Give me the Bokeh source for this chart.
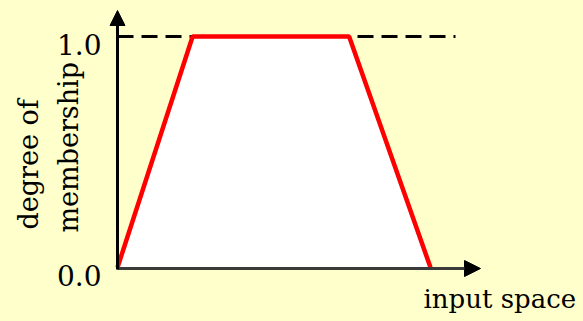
import math
from bokeh.plotting import figure
from bokeh.models import Range1d, Arrow, NormalHead
from bokeh.core.properties import value
from bokeh.embed import file_html
from bokeh.resources import INLINE

# ---- data ----
membership_x = [0.0, 2.4, 7.4, 10.0]
membership_y = [0.0, 1.0, 1.0, 0.0]
y_ticks = [0.0, 1.0]
y_tick_labels = ["0.0", "1.0"]
y_label_lines = ["degree of", "membership"]
x_label = "input space"

BG = "#FFFFCC"
FONT = "DejaVu Serif"
SHIFT = 9  # baseline correction in pixels

# ---- layout (reference pixel <-> data mapping) ----
W, H = 583, 321
OX, OY = 0, 0
X0, XS = 117.0, 31.3     # pixel of x=0, pixels per unit
Y0, YS = 267.0, 231.0    # pixel of y=0, pixels per unit


def dx(px):
    return (px - X0) / XS


def dy(py):
    return (Y0 - py) / YS


p = figure(width=W, height=H, output_backend="svg", toolbar_location=None,
           x_range=Range1d(dx(OX), dx(OX + W)), y_range=Range1d(dy(OY + H), dy(OY)),
           x_axis_location=None, y_axis_location=None, min_border=0,
           background_fill_color=BG, border_fill_color=BG, outline_line_color=None)
p.grid.visible = False

# dashed level line at membership 1.0
p.line([0.0, dx(455)], [1.0, 1.0], line_color="black", line_width=3, line_dash="16 8")

# trapezoid fill
p.patch(membership_x, membership_y, fill_color="white", line_color=None)

# axes as arrows
p.add_layout(Arrow(x_start=0.0, y_start=dy(268), x_end=dx(480), y_end=dy(268),
                   line_color="#3a3a3a", line_width=3,
                   end=NormalHead(size=16, fill_color="black", line_color="black", line_width=1)))
p.add_layout(Arrow(x_start=0.0, y_start=dy(269), x_end=0.0, y_end=dy(10),
                   line_color="black", line_width=3,
                   end=NormalHead(size=15, fill_color="black", line_color="black", line_width=1)))

# membership function
p.line(membership_x, membership_y, line_color="#FF0000", line_width=4.5)

# tick labels
p.text(x=[dx(101)] * len(y_ticks), y=[t - (17.0 - SHIFT) / YS for t in y_ticks], text=y_tick_labels,
       text_font=value(FONT), text_font_size="28px", text_align="right",
       text_baseline="alphabetic", text_color="black")

# y axis label (two rotated lines)
p.text(x=[dx(37 - SHIFT), dx(77 - SHIFT)], y=[dy(229), dy(232)], text=y_label_lines, angle=math.pi / 2,
       text_font=value(FONT), text_font_size="27px", text_align="left",
       text_baseline="alphabetic", text_color="black")

# x axis label
p.text(x=[dx(423)], y=[dy(307 - SHIFT)], text=[x_label],
       text_font=value(FONT), text_font_size="26px", text_align="left",
       text_baseline="alphabetic", text_color="black")

html = file_html(p, INLINE)
html = html.replace("</head>", "<style>html,body{background:%s;}</style></head>" % BG, 1)
open("out.html", "w").write(html)
